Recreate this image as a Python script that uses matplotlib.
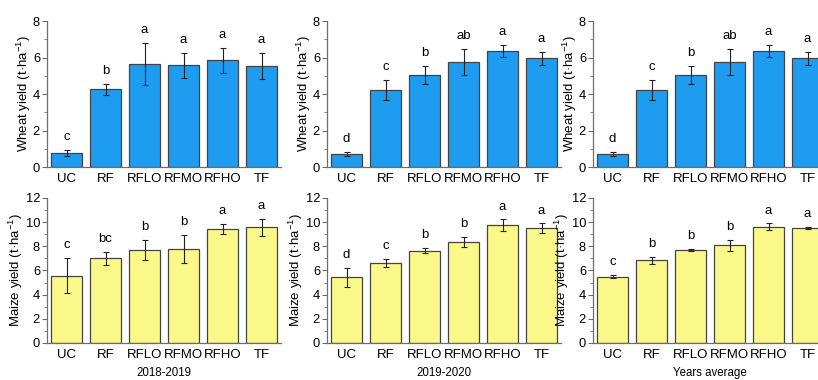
import matplotlib
matplotlib.use("Agg")
import matplotlib.pyplot as plt
from matplotlib.ticker import MultipleLocator

plt.rcParams["font.family"] = ["Liberation Sans", "DejaVu Sans"]
plt.rcParams["mathtext.fontset"] = "custom"
plt.rcParams["mathtext.rm"] = "Liberation Sans"
plt.rcParams["mathtext.it"] = "Liberation Sans:italic"

treatments = ["UC", "RF", "RFLO", "RFMO", "RFHO", "TF"]
periods = ["2018-2019", "2019-2020", "Years average"]

# wheat yield (t/ha), error, letters per period
wheat_1819 = [0.77, 4.25, 5.64, 5.57, 5.86, 5.53]
wheat_1819_err = [0.18, 0.30, 1.15, 0.70, 0.68, 0.73]
wheat_1819_sig = ["c", "b", "a", "a", "a", "a"]

wheat_1920 = [0.70, 4.21, 5.05, 5.75, 6.36, 5.95]
wheat_1920_err = [0.12, 0.55, 0.51, 0.73, 0.35, 0.38]
wheat_1920_sig = ["d", "c", "b", "ab", "a", "a"]

wheat_avg = [0.70, 4.21, 5.05, 5.75, 6.36, 5.95]
wheat_avg_err = [0.12, 0.55, 0.51, 0.73, 0.35, 0.38]
wheat_avg_sig = ["d", "c", "b", "ab", "a", "a"]

# maize yield (t/ha)
maize_1819 = [5.55, 7.00, 7.69, 7.77, 9.45, 9.56]
maize_1819_err = [1.45, 0.55, 0.80, 1.15, 0.40, 0.68]
maize_1819_sig = ["c", "bc", "b", "b", "a", "a"]

maize_1920 = [5.44, 6.65, 7.64, 8.38, 9.75, 9.48]
maize_1920_err = [0.80, 0.33, 0.20, 0.40, 0.47, 0.41]
maize_1920_sig = ["d", "c", "b", "b", "a", "a"]

maize_avg = [5.47, 6.84, 7.69, 8.08, 9.62, 9.53]
maize_avg_err = [0.12, 0.30, 0.06, 0.44, 0.27, 0.08]
maize_avg_sig = ["c", "b", "b", "b", "a", "a"]

WHEAT_COLOR = "#1e9cf0"
MAIZE_COLOR = "#fbf88a"
SPINE = "#6e6e6e"

fig = plt.figure(figsize=(8.18, 3.80), dpi=100)

# panel layout (third column runs off the right edge, as in the original crop)
lefts = [47 / 818, 327 / 818, 593 / 818]
w = 234 / 818
top_row = (0.5605, 0.384)
bot_row = (0.0974, 0.3816)

rows = [
    ("Wheat", [wheat_1819, wheat_1920, wheat_avg],
     [wheat_1819_err, wheat_1920_err, wheat_avg_err],
     [wheat_1819_sig, wheat_1920_sig, wheat_avg_sig], WHEAT_COLOR, 8, top_row, -0.06),
    ("Maize", [maize_1819, maize_1920, maize_avg],
     [maize_1819_err, maize_1920_err, maize_avg_err],
     [maize_1819_sig, maize_1920_sig, maize_avg_sig], MAIZE_COLOR, 12, bot_row, -0.092),
]

x = list(range(len(treatments)))
for r, (crop, vals, errs, sigs, color, ymax, (b, h), lab_x) in enumerate(rows):
    for c in range(3):
        ax = fig.add_axes([lefts[c], b, w, h])
        ax.bar(x, vals[c], width=0.8, color=color, edgecolor="#444444", linewidth=0.9)
        ax.errorbar(x, vals[c], yerr=errs[c], fmt="none", ecolor="#222222",
                    elinewidth=0.8, capsize=2, capthick=0.8)
        for xi, v, e, s in zip(x, vals[c], errs[c], sigs[c]):
            ax.annotate(s, (xi, v + e), xytext=(0, 5), textcoords="offset points",
                        ha="center", va="bottom", fontsize=9.5)
        ax.set_xlim(-0.5, 5.5)
        ax.set_ylim(0, ymax)
        ax.yaxis.set_major_locator(MultipleLocator(2))
        ax.yaxis.set_minor_locator(MultipleLocator(1))
        ax.set_xticks(x)
        ax.set_xticklabels(treatments, fontsize=9.5)
        ax.tick_params(axis="x", length=0, pad=4)
        ax.tick_params(axis="y", which="major", length=3.5, width=0.8,
                       color=SPINE, labelsize=9.3, pad=1.5)
        ax.tick_params(axis="y", which="minor", length=2, width=0.6, color=SPINE)
        for side in ("top", "right"):
            ax.spines[side].set_visible(False)
        for side in ("left", "bottom"):
            ax.spines[side].set_color(SPINE)
            ax.spines[side].set_linewidth(0.9)
        ax.set_ylabel(crop + r" yield (t·ha$^{-1}$)", fontsize=9.5)
        ax.yaxis.set_label_coords(lab_x, 0.5)
        if r == 1:
            ax.set_xlabel(periods[c], fontsize=8.3, labelpad=5)

fig.savefig("out.png", dpi=100)
